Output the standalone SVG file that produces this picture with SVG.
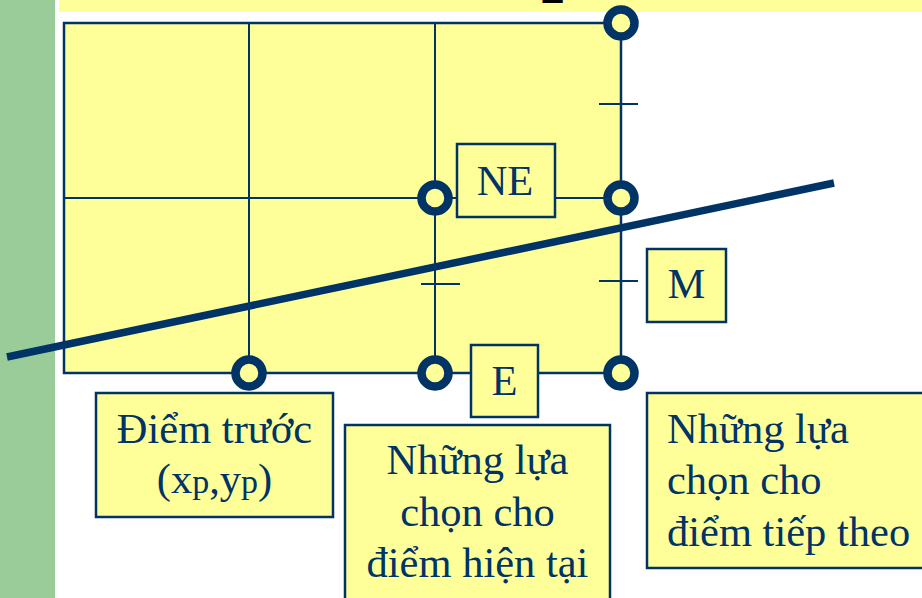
<svg xmlns="http://www.w3.org/2000/svg" width="922" height="598" viewBox="0 0 922 598">
<style>
.grid{stroke:#003366;stroke-width:2;fill:none}
.pt{fill:#FFFF99;stroke:#003366;stroke-width:8.5}
.box{fill:#FFFF99;stroke:#003366;stroke-width:2.5}
.lbl{font-family:"Liberation Serif","Times New Roman",serif;font-size:42.5px;fill:#003366}
.c{text-anchor:middle}
</style>
<rect x="0" y="0" width="922" height="598" fill="#FFFFFF"/>
<rect x="0" y="0" width="55" height="598" fill="#99CC99"/>
<rect x="59" y="0" width="863" height="12" fill="#FFFF99"/>
<text x="541" y="3" font-family="Liberation Sans, Arial, sans-serif" font-weight="bold" font-size="42" fill="#000000">2</text>
<g id="grid">
<rect x="64" y="23" width="557" height="350" fill="#FFFF99" stroke="#003366" stroke-width="2.5"/>
<line class="grid" x1="249" y1="23" x2="249" y2="373"/>
<line class="grid" x1="435" y1="23" x2="435" y2="373"/>
<line class="grid" x1="621" y1="23" x2="621" y2="373"/>
<line class="grid" x1="64" y1="198" x2="621" y2="198"/>
<line class="grid" x1="599" y1="104" x2="638" y2="104"/>
<line class="grid" x1="599" y1="281" x2="638" y2="281"/>
<line class="grid" x1="421" y1="284" x2="460" y2="284"/>
</g>
<g id="connectors">
<line x1="7" y1="357" x2="834" y2="183" stroke="#003366" stroke-width="7.5"/>
</g>
<g id="points">
<circle class="pt" cx="621" cy="23" r="13.5"/>
<circle class="pt" cx="435" cy="198" r="13.5"/>
<circle class="pt" cx="621" cy="198" r="13.5"/>
<circle class="pt" cx="249" cy="373" r="13.5"/>
<circle class="pt" cx="435" cy="373" r="13.5"/>
<circle class="pt" cx="621" cy="373" r="13.5"/>
</g>
<g id="NE">
<rect class="box" x="457" y="144" width="98" height="73"/>
<text class="lbl c" x="505" y="195">NE</text>
</g>
<g id="E">
<rect class="box" x="471" y="345" width="67" height="72"/>
<text class="lbl c" x="504.5" y="395">E</text>
</g>
<g id="M">
<rect class="box" x="647" y="249" width="79" height="73"/>
<text class="lbl c" x="686.5" y="298">M</text>
</g>
<g id="prev">
<rect class="box" x="96" y="393" width="237" height="124"/>
<text class="lbl c" x="214.5" y="443">Điểm trước</text>
<text class="lbl c" x="214.5" y="493">(x<tspan font-size="34">p</tspan>,y<tspan font-size="34">p</tspan>)</text>
</g>
<g id="current">
<rect class="box" x="345" y="425" width="265" height="190"/>
<text class="lbl c" x="477.5" y="474">Những lựa</text>
<text class="lbl c" x="477.5" y="526">chọn cho</text>
<text class="lbl c" x="477.5" y="577">điểm hiện tại</text>
</g>
<g id="next">
<rect class="box" x="647" y="393" width="290" height="175"/>
<text class="lbl" x="667" y="443">Những lựa</text>
<text class="lbl" x="667" y="494">chọn cho</text>
<text class="lbl" x="667" y="546">điểm tiếp theo</text>
</g>
</svg>
